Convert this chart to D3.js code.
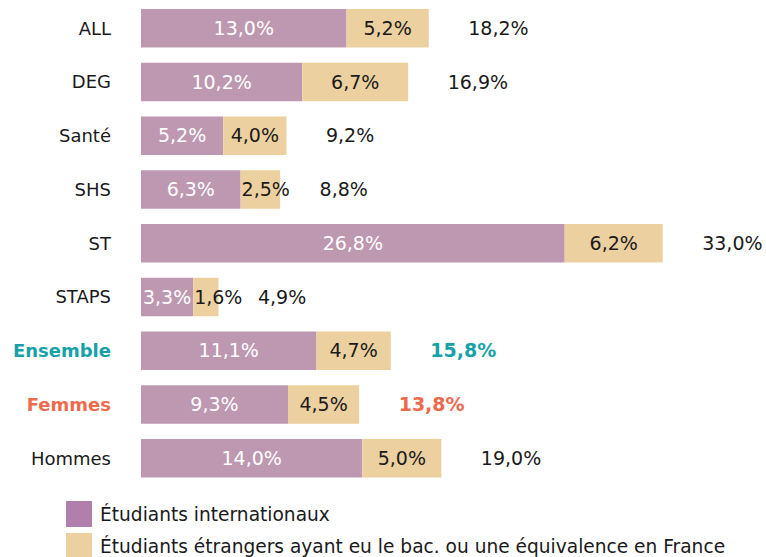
<!DOCTYPE html>
<html>
<head>
<meta charset="utf-8">
<script src="https://cdn.jsdelivr.net/npm/d3@7"></script>
<style>
  html, body { margin: 0; padding: 0; background: #fff; }
  svg { display: block; font-family: "DejaVu Sans", Verdana, sans-serif; }
</style>
</head>
<body>
<svg id="chart" width="766" height="557"></svg>
<script>
const categories = ["ALL", "DEG", "Santé", "SHS", "ST", "STAPS", "Ensemble", "Femmes", "Hommes"];
const internationaux = [13.0, 10.2, 5.2, 6.3, 26.8, 3.3, 11.1, 9.3, 14.0];
const bacFrance = [5.2, 6.7, 4.0, 2.5, 6.2, 1.6, 4.7, 4.5, 5.0];
const totals = [18.2, 16.9, 9.2, 8.8, 33.0, 4.9, 15.8, 13.8, 19.0];
const seriesNames = ["Étudiants internationaux", "Étudiants étrangers ayant eu le bac. ou une équivalence en France"];
const highlight = { "Ensemble": "#16a1a9", "Femmes": "#ee6a4c" };

const colBar = ["#be98b1", "#ecd09f"];
const colLegend = ["#b07fab", "#ecd09f"];

const fmt = v => v.toFixed(1).replace(".", ",") + "%";

const svg = d3.select("#chart");

const maxTotal = d3.max(categories, (c, i) => internationaux[i] + bacFrance[i]);
const x = d3.scaleLinear().domain([0, maxTotal]).range([141, 662.7]);
const y = d3.scaleBand().domain(categories).range([9, 477.5]).paddingInner(0.284).paddingOuter(0);

const rows = categories.map((c, i) => ({
  cat: c, a: internationaux[i], b: bacFrance[i], total: totals[i]
}));

const g = svg.append("g");

// category labels
g.selectAll("text.cat").data(rows).enter().append("text")
  .attr("class", "cat")
  .attr("x", 111)
  .attr("y", d => y(d.cat) + y.bandwidth() / 2)
  .attr("dy", "0.35em")
  .attr("text-anchor", "end")
  .attr("font-size", 18)
  .attr("font-weight", d => highlight[d.cat] ? "bold" : "normal")
  .attr("fill", d => highlight[d.cat] || "#1a1a1a")
  .text(d => d.cat);

// purple segments
g.selectAll("rect.a").data(rows).enter().append("rect")
  .attr("x", x(0))
  .attr("y", d => y(d.cat))
  .attr("width", d => x(d.a) - x(0))
  .attr("height", y.bandwidth())
  .attr("fill", colBar[0]);

// beige segments
g.selectAll("rect.b").data(rows).enter().append("rect")
  .attr("x", d => x(d.a))
  .attr("y", d => y(d.cat))
  .attr("width", d => x(d.a + d.b) - x(d.a))
  .attr("height", y.bandwidth())
  .attr("fill", colBar[1]);

// segment labels
function segLabel(sel, x0f, x1f, valf, color) {
  sel.each(function(d) {
    const x0 = x0f(d), x1 = x1f(d);
    const t = d3.select(this)
      .attr("y", y(d.cat) + y.bandwidth() / 2)
      .attr("dy", "0.35em")
      .attr("font-size", 19)
      .attr("fill", color)
      .text(fmt(valf(d)));
    const w = this.getComputedTextLength();
    if (w > x1 - x0) {
      t.attr("x", x0 + 1).attr("text-anchor", "start");
    } else {
      t.attr("x", (x0 + x1) / 2).attr("text-anchor", "middle");
    }
  });
}
segLabel(g.selectAll("text.la").data(rows).enter().append("text"),
  d => x(0), d => x(d.a), d => d.a, "#ffffff");
segLabel(g.selectAll("text.lb").data(rows).enter().append("text"),
  d => x(d.a), d => x(d.a + d.b), d => d.b, "#1a1a1a");

// total labels
g.selectAll("text.tot").data(rows).enter().append("text")
  .attr("x", d => x(d.a + d.b) + 39.5)
  .attr("y", d => y(d.cat) + y.bandwidth() / 2)
  .attr("dy", "0.35em")
  .attr("font-size", 19)
  .attr("font-weight", d => highlight[d.cat] ? "bold" : "normal")
  .attr("fill", d => highlight[d.cat] || "#1a1a1a")
  .text(d => fmt(d.total));

// legend
const lg = svg.append("g");
seriesNames.forEach((name, i) => {
  const yy = 501 + i * 32;
  lg.append("rect").attr("x", 66).attr("y", yy).attr("width", 26).attr("height", 26).attr("fill", colLegend[i]);
  lg.append("text").attr("x", 100).attr("y", yy + 13).attr("dy", "0.35em")
    .attr("font-size", 18.6).attr("fill", "#1a1a1a").text(name);
});
</script>
</body>
</html>
